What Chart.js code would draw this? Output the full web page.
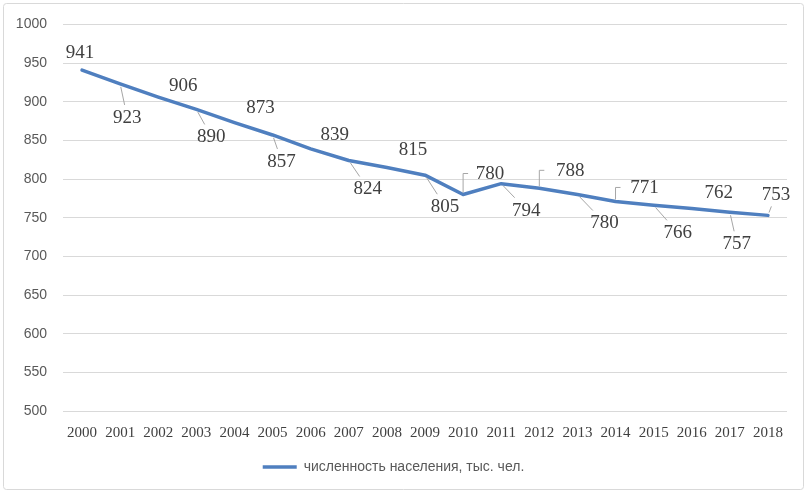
<!DOCTYPE html>
<html><head><meta charset="utf-8">
<script src="https://cdn.jsdelivr.net/npm/chart.js@4"></script>
<style>html,body{margin:0;padding:0;background:#fff}#wrap{width:808px;height:494px;position:relative}canvas{display:block}</style>
</head><body><div id="wrap"><canvas id="c" width="808" height="494"></canvas></div>
<script>
const years = ['2000','2001','2002','2003','2004','2005','2006','2007','2008','2009','2010','2011','2012','2013','2014','2015','2016','2017','2018'];
const population = [941, 923, 906, 890, 873, 857, 839, 824, 815, 805, 780, 794, 788, 780, 771, 766, 762, 757, 753];
const yMin = 500, yMax = 1000, yStep = 50;
const seriesName = 'численность населения, тыс. чел.';
// label placement relative to each point (style only)
const labelOffsets = [[-2,-18],[7,33],[25,-12],[15,27],[26,-16],[9,26],[24,-15],[19,28],[26,-18],[20,31],[27,-21],[25,26],[31,-18],[27,28],[29,-14],[24,27],[27,-16],[7,31],[8,-21]];
const leaderStyles = [0,1,0,1,0,1,0,1,0,1,2,1,2,1,2,1,0,1,1];

const borderPlugin = {
  id: 'frame',
  beforeDraw(chart) {
    const ctx = chart.ctx;
    ctx.save();
    ctx.fillStyle = '#ffffff';
    ctx.fillRect(0, 0, chart.width, chart.height);
    ctx.strokeStyle = '#d9d9d9';
    ctx.lineWidth = 1;
    ctx.beginPath();
    ctx.roundRect(3.5, 3.5, 800, 486, 3);
    ctx.stroke();
    ctx.restore();
  }
};

const labelPlugin = {
  id: 'valueLabels',
  afterDatasetsDraw(chart) {
    const ctx = chart.ctx;
    const meta = chart.getDatasetMeta(0);
    const data = chart.data.datasets[0].data;
    ctx.save();
    ctx.font = '19px "Liberation Serif", "Times New Roman", serif';
    ctx.textAlign = 'center';
    ctx.textBaseline = 'middle';
    meta.data.forEach((pt, i) => {
      const txt = String(data[i]);
      const off = labelOffsets[i];
      const lx = pt.x + off[0], ly = pt.y + off[1];
      const w = ctx.measureText(txt).width;
      const hw = w / 2 + 3, hh = 12;
      const st = leaderStyles[i];
      ctx.strokeStyle = '#a6a6a6';
      ctx.lineWidth = 1;
      if (st === 1) {
        const dx = lx - pt.x, dy = ly - pt.y;
        const tx = dx !== 0 ? 1 - hw / Math.abs(dx) : -Infinity;
        const ty = dy !== 0 ? 1 - hh / Math.abs(dy) : -Infinity;
        const t = Math.max(tx, ty);
        const len = Math.hypot(dx, dy);
        const s = 3 / len;
        if (t > s) {
          ctx.beginPath();
          ctx.moveTo(pt.x + dx * s, pt.y + dy * s);
          ctx.lineTo(pt.x + dx * t, pt.y + dy * t);
          ctx.stroke();
        }
      } else if (st === 2) {
        ctx.beginPath();
        ctx.moveTo(pt.x, pt.y - 2);
        ctx.lineTo(pt.x, ly);
        ctx.lineTo(pt.x + 5, ly);
        ctx.stroke();
      }
      ctx.fillStyle = '#404040';
      ctx.fillText(txt, lx, ly + 1);
    });
    ctx.restore();
  }
};

new Chart(document.getElementById('c'), {
  type: 'line',
  data: {
    labels: years,
    datasets: [{
      label: seriesName,
      data: population,
      borderColor: '#4f7fbf',
      backgroundColor: '#4f7fbf',
      borderWidth: 3.5,
      pointRadius: 0,
      tension: 0,
      fill: false,
      borderCapStyle: 'round',
      borderJoinStyle: 'round'
    }]
  },
  options: {
    responsive: false,
    animation: false,
    devicePixelRatio: 1,
    layout: { padding: { left: 0, right: 21, top: 8, bottom: 10 } },
    plugins: {
      tooltip: { enabled: false },
      legend: {
        position: 'bottom',
        labels: {
          usePointStyle: true,
          pointStyle: 'line',
          pointStyleWidth: 34,
          color: '#595959',
          padding: 5,
          font: { family: '"Liberation Sans", Arial, sans-serif', size: 14 }
        }
      }
    },
    scales: {
      x: {
        offset: true,
        grid: { display: false, drawTicks: false },
        border: { display: false },
        ticks: {
          color: '#404040',
          padding: 13,
          autoSkip: false,
          maxRotation: 0,
          font: { family: '"Liberation Serif", "Times New Roman", serif', size: 15 }
        }
      },
      y: {
        min: yMin, max: yMax,
        afterFit(scale) { scale.width = 63; },
        grid: { color: '#d9d9d9', drawTicks: false },
        border: { display: false },
        ticks: {
          stepSize: yStep,
          color: '#595959',
          padding: 16,
          callback: (v) => String(v),
          font: { family: '"Liberation Sans", Arial, sans-serif', size: 14 }
        }
      }
    }
  },
  plugins: [borderPlugin, labelPlugin]
});
</script>
</body></html>
